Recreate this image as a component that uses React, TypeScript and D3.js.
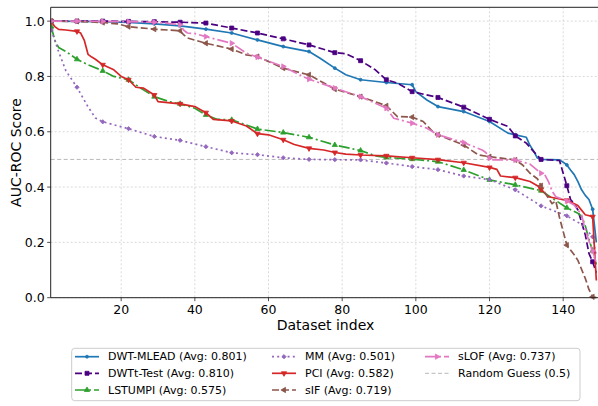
import React from 'react';
import * as d3 from 'd3';

const W = 598;
const H = 406;

const xTicks = [20, 40, 60, 80, 100, 120, 140];
const yTicks = [0, 0.2, 0.4, 0.6, 0.8, 1.0];

// [dataset index, AUC-ROC]
const dwtMlead: [number, number][] = [
  [1, 1.0], [8, 0.999], [15, 0.998], [22, 0.995], [29, 0.99], [36, 0.983], [43, 0.971], [50, 0.957],
  [57, 0.932], [64, 0.908], [71, 0.89], [74, 0.866], [78, 0.83], [81, 0.806], [85, 0.788], [92, 0.778],
  [99, 0.77], [100, 0.745], [103, 0.715], [106, 0.691], [113, 0.673], [120, 0.637], [125, 0.595],
  [127, 0.589], [130, 0.58], [131, 0.55], [132, 0.53], [133, 0.505], [134, 0.5], [139, 0.498],
  [140, 0.49], [141, 0.48], [142, 0.462], [143, 0.445], [144, 0.42], [145, 0.39], [146, 0.37],
  [147, 0.355], [148, 0.32], [149, 0.2],
];
const dwtTTest: [number, number][] = [
  [1, 1.0], [8, 1.0], [15, 1.0], [22, 0.999], [29, 0.998], [36, 0.996], [43, 0.993], [50, 0.975],
  [57, 0.957], [64, 0.936], [71, 0.914], [78, 0.886], [81, 0.882], [85, 0.857], [89, 0.824], [92, 0.788],
  [95, 0.776], [99, 0.745], [106, 0.724], [113, 0.689], [120, 0.645], [125, 0.619], [127, 0.585],
  [130, 0.559], [132, 0.528], [134, 0.5], [139, 0.496], [141, 0.405], [142, 0.355], [143, 0.34],
  [144, 0.317], [146, 0.228], [147, 0.16], [148, 0.13], [149, 0.09],
];
const lstumpi: [number, number][] = [
  [1, 0.98], [2, 0.93], [3, 0.905], [5, 0.89], [8, 0.862], [11, 0.842], [14, 0.826], [15, 0.82],
  [18, 0.8], [22, 0.788], [25, 0.76], [29, 0.727], [33, 0.709], [36, 0.701], [40, 0.685], [43, 0.661],
  [46, 0.645], [50, 0.643], [57, 0.61], [64, 0.597], [71, 0.58], [78, 0.552], [85, 0.532], [89, 0.513],
  [92, 0.507], [99, 0.501], [106, 0.492], [113, 0.462], [120, 0.426], [127, 0.408], [134, 0.387],
  [137, 0.36], [141, 0.325], [144, 0.305], [145, 0.295], [146, 0.26], [147, 0.21], [148, 0.17], [149, 0.12],
];
const mm: [number, number][] = [
  [1, 0.968], [2, 0.93], [3, 0.89], [5, 0.82], [8, 0.761], [11, 0.69], [12, 0.67], [13, 0.65],
  [15, 0.636], [22, 0.611], [29, 0.583], [36, 0.569], [43, 0.546], [50, 0.524], [57, 0.517], [64, 0.506],
  [71, 0.5], [78, 0.499], [85, 0.498], [92, 0.487], [99, 0.474], [106, 0.463], [113, 0.44], [120, 0.427],
  [127, 0.39], [134, 0.332], [141, 0.296], [143, 0.28], [145, 0.265], [147, 0.236], [148, 0.22], [149, 0.15],
];
const pci: [number, number][] = [
  [1, 0.999], [2, 0.98], [3, 0.97], [5, 0.968], [8, 0.963], [9, 0.957], [10, 0.93], [11, 0.88],
  [12, 0.87], [13, 0.862], [15, 0.842], [18, 0.824], [20, 0.8], [22, 0.788], [24, 0.761], [26, 0.758],
  [29, 0.733], [30, 0.709], [36, 0.701], [40, 0.691], [43, 0.669], [45, 0.645], [50, 0.639], [54, 0.621],
  [57, 0.593], [60, 0.589], [64, 0.571], [67, 0.554], [71, 0.54], [75, 0.534], [78, 0.525], [81, 0.519],
  [85, 0.516], [92, 0.513], [99, 0.506], [106, 0.499], [113, 0.488], [120, 0.471], [122, 0.464],
  [123, 0.44], [127, 0.434], [131, 0.42], [133, 0.405], [134, 0.392], [136, 0.365], [141, 0.352],
  [144, 0.333], [146, 0.3], [148, 0.293], [149, 0.062],
];
const sif: [number, number][] = [
  [1, 1.0], [8, 0.999], [15, 0.995], [19, 0.99], [22, 0.98], [29, 0.971], [36, 0.965], [37, 0.95],
  [38, 0.939], [43, 0.92], [50, 0.899], [54, 0.878], [57, 0.872], [64, 0.83], [69, 0.812], [71, 0.806],
  [78, 0.754], [85, 0.727], [92, 0.694], [95, 0.655], [99, 0.653], [102, 0.637], [105, 0.595],
  [106, 0.589], [113, 0.552], [117, 0.516], [120, 0.51], [127, 0.498], [129, 0.48], [131, 0.45],
  [133, 0.43], [134, 0.405], [135, 0.38], [137, 0.34], [138, 0.35], [139, 0.29], [140, 0.24],
  [141, 0.19], [143, 0.155], [144, 0.135], [146, 0.07], [147, 0.03], [148, 0.003], [149, 0.0],
];
const slof: [number, number][] = [
  [1, 1.0], [8, 1.0], [15, 0.999], [22, 0.998], [29, 0.996], [34, 0.99], [36, 0.987], [37, 0.967],
  [38, 0.957], [40, 0.955], [43, 0.944], [50, 0.92], [54, 0.884], [57, 0.87], [64, 0.836], [69, 0.802],
  [71, 0.79], [78, 0.758], [85, 0.727], [92, 0.685], [94, 0.649], [99, 0.631], [103, 0.613], [106, 0.589],
  [113, 0.561], [118, 0.534], [119, 0.525], [120, 0.505], [121, 0.498], [127, 0.498], [131, 0.483],
  [134, 0.45], [135, 0.445], [136, 0.42], [137, 0.385], [138, 0.365], [141, 0.35], [143, 0.335],
  [144, 0.317], [145, 0.3], [146, 0.245], [147, 0.205], [148, 0.17], [149, 0.125],
];

const seriesNames = ['DWT-MLEAD', 'DWTt-Test', 'LSTUMPI', 'MM', 'PCI', 'sIF', 'sLOF'];
const seriesAvg = ['0.801', '0.810', '0.575', '0.501', '0.582', '0.719', '0.737'];
const randomGuess = 0.5;

const seriesData = [dwtMlead, dwtTTest, lstumpi, mm, pci, sif, slof];
const colors = ['#1f77b4', '#4b0082', '#2ca02c', '#9467bd', '#d62728', '#8c564b', '#e377c2'];
const dashes = ['', '7,3', '11,3,2,3', '2,3.2', '', '7,3', '11,3,2,3'];
const markerTypes = [
  { t: d3.symbolCircle, s: 7, r: 0 },
  { t: d3.symbolSquare, s: 16, r: 0 },
  { t: d3.symbolTriangle, s: 12, r: 0 },
  { t: d3.symbolSquare, s: 9, r: 45 },
  { t: d3.symbolTriangle, s: 12, r: 180 },
  { t: d3.symbolTriangle, s: 12, r: -90 },
  { t: d3.symbolTriangle, s: 12, r: 90 },
];

const FONT = '"DejaVu Sans", sans-serif';

export default function App() {
  const x = d3.scaleLinear().domain([1, 150]).range([51.2, 600]);
  const y = d3.scaleLinear().domain([0, 1.05]).range([297.7, 7.3]);
  const line = d3.line<[number, number]>().x((d) => x(d[0])).y((d) => y(d[1]));
  const left = 50.7, right = 600, top = 7.3, bottom = 297.7;

  const legendCols = [75, 272, 425];
  const legendRows = [356.7, 373.3, 390];
  const handleLen = 24;

  const legendItems = seriesNames.map((n, i) => ({
    label: `${n} (Avg: ${seriesAvg[i]})`,
    col: Math.floor(i / 3),
    row: i % 3,
    i,
  }));

  return (
    <svg width={W} height={H} style={{ position: 'absolute', left: 0, top: 0, background: '#fff' }}
      fontFamily={FONT}>
      <defs>
        <clipPath id="plotclip">
          <rect x={left} y={top - 5} width={right - left} height={bottom - top + 10} />
        </clipPath>
      </defs>
      <rect x={0} y={0} width={W} height={H} fill="#fff" />
      {xTicks.map((t) => (
        <line key={'gx' + t} x1={x(t)} x2={x(t)} y1={top} y2={bottom}
          stroke="#d0d0d0" strokeWidth={0.8} strokeDasharray="2,2" />
      ))}
      {yTicks.map((t) => (
        <line key={'gy' + t} x1={left} x2={right} y1={y(t)} y2={y(t)}
          stroke="#d0d0d0" strokeWidth={0.8} strokeDasharray="2,2" />
      ))}
      <line x1={left} x2={right} y1={y(randomGuess)} y2={y(randomGuess)}
        stroke="#b8b8b8" strokeWidth={1} strokeDasharray="4,2.5" />
      <g clipPath="url(#plotclip)">
        {seriesData.map((data, i) => {
          const m = markerTypes[i];
          const sym = d3.symbol().type(m.t).size(m.s)() || '';
          return (
            <g key={'s' + i}>
              <path d={line(data) || ''} fill="none" stroke={colors[i]} strokeWidth={1.7}
                strokeDasharray={dashes[i] || undefined} strokeLinejoin="round" />
              {data.filter((d) => (d[0] - 1) % 7 === 0).map((d) => (
                <path key={d[0]} d={sym} fill={colors[i]} stroke={colors[i]} strokeWidth={0.8}
                  transform={`translate(${x(d[0])},${y(d[1])}) rotate(${m.r})`} />
              ))}
            </g>
          );
        })}
      </g>
      <line x1={left} x2={left} y1={top} y2={bottom} stroke="#222" strokeWidth={1} />
      <line x1={left} x2={right} y1={bottom} y2={bottom} stroke="#222" strokeWidth={1} />
      <line x1={left} x2={right} y1={top} y2={top} stroke="#222" strokeWidth={1} />
      {yTicks.map((t) => (
        <g key={'ty' + t}>
          <line x1={left - 3.5} x2={left} y1={y(t)} y2={y(t)} stroke="#222" strokeWidth={0.8} />
          <text x={left - 6} y={y(t)} textAnchor="end" dominantBaseline="central" fontSize={12.5} fill="#000">
            {t.toFixed(1)}
          </text>
        </g>
      ))}
      {xTicks.map((t) => (
        <g key={'tx' + t}>
          <line x1={x(t)} x2={x(t)} y1={bottom} y2={bottom + 3.5} stroke="#222" strokeWidth={0.8} />
          <text x={x(t)} y={313.5} textAnchor="middle" fontSize={12.5} fill="#000">{t}</text>
        </g>
      ))}
      <text x={325.5} y={330} textAnchor="middle" fontSize={14} fill="#000">Dataset index</text>
      <text transform="translate(20.7,152.5) rotate(-90)" textAnchor="middle" fontSize={14} fill="#000">
        AUC-ROC Score
      </text>
      <rect x={71.7} y={348.3} width={508.3} height={52.4} rx={3} fill="#fff" fillOpacity={0.8}
        stroke="#cccccc" strokeWidth={1} />
      {legendItems.map((it) => {
        const hx = legendCols[it.col];
        const hy = legendRows[it.row];
        const m = markerTypes[it.i];
        const sym = d3.symbol().type(m.t).size(m.s)() || '';
        return (
          <g key={'lg' + it.i}>
            <line x1={hx} x2={hx + handleLen} y1={hy} y2={hy} stroke={colors[it.i]} strokeWidth={1.7}
              strokeDasharray={dashes[it.i] || undefined} />
            <path d={sym} fill={colors[it.i]} stroke={colors[it.i]} strokeWidth={0.8}
              transform={`translate(${hx + handleLen / 2},${hy}) rotate(${m.r})`} />
            <text x={hx + 33} y={hy} dominantBaseline="central" fontSize={11} fill="#000">{it.label}</text>
          </g>
        );
      })}
      <g>
        <line x1={legendCols[2]} x2={legendCols[2] + handleLen} y1={legendRows[1]} y2={legendRows[1]}
          stroke="#b8b8b8" strokeWidth={1} strokeDasharray="4,2.5" />
        <text x={legendCols[2] + 33} y={legendRows[1]} dominantBaseline="central" fontSize={11} fill="#000">
          {`Random Guess (${randomGuess})`}
        </text>
      </g>
    </svg>
  );
}
